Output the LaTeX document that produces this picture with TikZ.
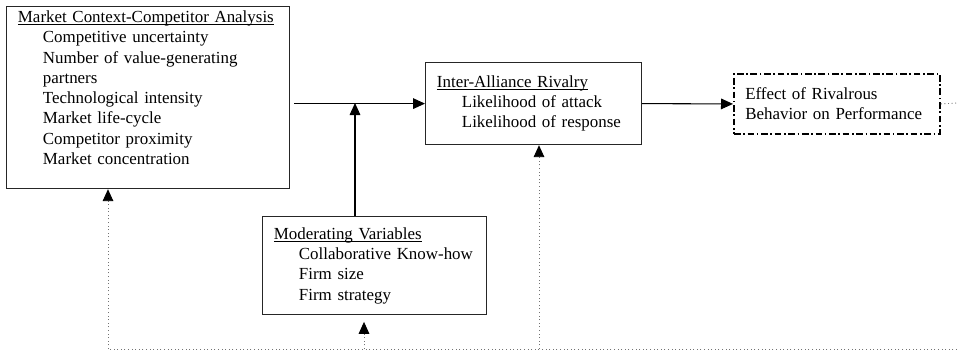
\documentclass[tikz,border=0pt]{standalone}
\usepackage{fontspec}
\setmainfont{Liberation Serif}
\usetikzlibrary{arrows.meta}
\newcommand{\ind}{\hspace*{18.75pt}}
\newcommand{\hd}[1]{\underline{\smash{#1}}\vphantom{#1}}

\begin{document}
\begin{tikzpicture}[x=0.75pt,y=-0.75pt,
		blk/.style={draw=black!85,line width=0.9pt,anchor=north west,align=left,inner xsep=8.5pt,
			font=\fontsize{12.7pt}{15.2pt}\selectfont},
		link/.style={line width=0.8pt,-{Triangle[width=8pt,length=9pt]}},
		fback/.style={dotted,line width=0.7pt,draw=black!55},
		fbarrow/.style={fback,-{Triangle[width=8pt,length=9pt,color=black]}}]
		\useasboundingbox (0,0) rectangle (957,351);
		% boxes
		\node[blk,text width=195.25pt,inner ysep=3pt,text height=9pt,text depth=121.5pt] (context) at (6,6)
			{\hd{Market Context-Competitor Analysis}\\
			\ind Competitive uncertainty\\
			\ind Number of value-generating\\
			\ind partners\\
			\ind Technological intensity\\
			\ind Market life-cycle\\
			\ind Competitor proximity\\
			\ind Market concentration};
		\node[blk,text width=145pt,minimum height=61.5pt] (rivalry) at (425,62)
			{\hd{Inter-Alliance Rivalry}\\
			\ind Likelihood of attack\\
			\ind Likelihood of response};
		\node[blk,text width=151pt,minimum height=73.5pt] (moderating) at (262,216)
			{\hd{Moderating Variables}\\
			\ind Collaborative Know-how\\
			\ind Firm size\\
			\ind Firm strategy};
		\node[blk,draw=black,line width=1.4pt,dash pattern=on 5pt off 2pt on 1.2pt off 2pt,
			text width=137.5pt,minimum height=45pt] (effect) at (733,73)
			{Effect of Rivalrous\\
			Behavior on Performance};
		% main flow
		\coordinate (join) at (355,103);
		\draw[link,shorten <=3pt] (context.east |- rivalry.west) -- (rivalry.west);
		\draw[link] (moderating.north -| join) -- (join);
		\draw[link] (rivalry.east) -- (effect.west);
		% feedback loop
		\coordinate (fbtop) at (957,103);
		\coordinate (fbbot) at (957,349);
		\coordinate (fbleft) at (108,349);
		\coordinate (fbmod) at (364,349);
		\coordinate (fbriv) at (539,349);
		\draw[fback] (effect.east) -- (fbtop);
		\draw[fback] (fbbot) -- (fbleft);
		\draw[fbarrow] (fbleft) -- (context.south -| fbleft);
		\draw[fbarrow,shorten >=5pt] (fbmod) -- (moderating.south -| fbmod);
		\draw[fbarrow] (fbriv) -- (rivalry.south -| fbriv);
	\end{tikzpicture}
\end{document}
